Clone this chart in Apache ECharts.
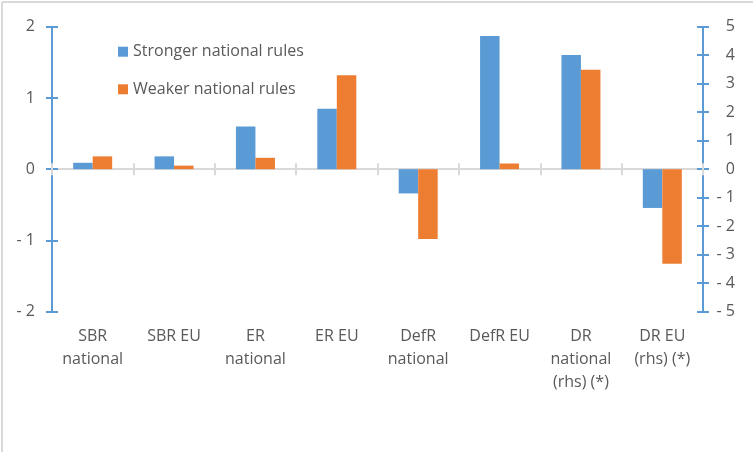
<!DOCTYPE html>
<html>
<head>
<meta charset="utf-8">
<script src="https://cdn.jsdelivr.net/npm/echarts@6/dist/echarts.min.js"></script>
<style>
  html, body { margin: 0; padding: 0; background: #fff; }
  #chart { width: 753px; height: 452px; }
</style>
</head>
<body>
<div id="chart"></div>
<script>
  // categories (last two read on the right-hand axis)
  var CATEGORIES = [
    'SBR\nnational', 'SBR EU', 'ER\nnational', 'ER EU',
    'DefR\nnational', 'DefR EU', 'DR\nnational\n(rhs) (*)', 'DR EU\n(rhs) (*)'
  ];
  var SERIES_NAMES = ['Stronger national rules', 'Weaker national rules'];

  // left axis values
  var STRONGER_LHS = [0.09, 0.18, 0.60, 0.85, -0.34, 1.87, null, null];
  var WEAKER_LHS   = [0.18, 0.05, 0.16, 1.32, -0.98, 0.08, null, null];
  // right axis values
  var STRONGER_RHS = [null, null, null, null, null, null, 4.01, -1.36];
  var WEAKER_RHS   = [null, null, null, null, null, null, 3.49, -3.32];

  var LHS_RANGE = [-2, 2];
  var RHS_RANGE = [-5, 5];

  var BLUE = '#5B9BD5';
  var ORANGE = '#ED7D31';
  var INK = '#595959';
  var RULE = '#D9D9D9';
  var FONT = '"Open Sans", sans-serif';

  function tickLabel(v) { return v < 0 ? '- ' + Math.abs(v) : String(v); }

  function valueAxis(range, pos, inside, showLabel) {
    return {
      type: 'value', position: pos,
      min: range[0], max: range[1], interval: 1,
      splitLine: { show: false },
      axisLine: { show: !inside, lineStyle: { color: BLUE, width: 2 } },
      axisTick: { show: true, inside: inside, length: 6, lineStyle: { color: BLUE, width: 2 } },
      axisLabel: {
        show: showLabel, color: INK, fontFamily: FONT, fontSize: 16,
        align: 'right',
        margin: pos === 'left' ? 17 : 32,
        formatter: tickLabel
      }
    };
  }

  function catAxis(kind) {
    // kind: 'labels' | 'out' | 'in'
    var base = {
      type: 'category', data: CATEGORIES,
      axisLine: { show: kind === 'out', onZero: kind !== 'labels', lineStyle: { color: RULE, width: 2 } },
      axisTick: { show: kind !== 'labels', inside: kind === 'in', length: 6, lineStyle: { color: RULE, width: 2 } },
      axisLabel: { show: false },
      splitLine: { show: false }
    };
    if (kind === 'labels') {
      base.position = 'bottom';
      base.axisLabel = {
        show: true, interval: 0, color: INK, fontFamily: FONT, fontSize: 16,
        lineHeight: 23, margin: 13, verticalAlign: 'top'
      };
    }
    return base;
  }

  function bars(name, data, color, yIdx, stack) {
    return {
      name: name, type: 'bar', data: data,
      xAxisIndex: 0, yAxisIndex: yIdx, stack: stack,
      barWidth: 19.5, barGap: '0%',
      itemStyle: { color: color },
      emphasis: { disabled: true }
    };
  }

  var chart = echarts.init(document.getElementById('chart'), null, { renderer: 'canvas' });
  chart.setOption({
    animation: false,
    grid: { left: 52, right: 50, top: 26.7, bottom: 140.3 },
    legend: {
      data: SERIES_NAMES,
      orient: 'vertical', left: 118, top: 43.7, padding: 0,
      icon: 'rect', itemWidth: 10, itemHeight: 10, itemGap: 21.6,
      textStyle: { color: INK, fontFamily: FONT, fontSize: 16, lineHeight: 16 },
      selectedMode: false
    },
    xAxis: [catAxis('labels'), catAxis('out'), catAxis('in')],
    yAxis: [
      valueAxis(LHS_RANGE, 'left', false, true),
      valueAxis(RHS_RANGE, 'right', false, true),
      valueAxis(LHS_RANGE, 'left', true, false),
      valueAxis(RHS_RANGE, 'right', true, false)
    ],
    series: [
      bars(SERIES_NAMES[0], STRONGER_LHS, BLUE, 0, 'blue'),
      bars(SERIES_NAMES[1], WEAKER_LHS, ORANGE, 0, 'orange'),
      bars(SERIES_NAMES[0], STRONGER_RHS, BLUE, 1, 'blue'),
      bars(SERIES_NAMES[1], WEAKER_RHS, ORANGE, 1, 'orange')
    ],
    graphic: [
      { type: 'line', shape: { x1: 2, y1: 2, x2: 753, y2: 2 }, style: { stroke: RULE, lineWidth: 2 }, silent: true },
      { type: 'line', shape: { x1: 2, y1: 2, x2: 2, y2: 452 }, style: { stroke: RULE, lineWidth: 2 }, silent: true }
    ]
  });
</script>
</body>
</html>
